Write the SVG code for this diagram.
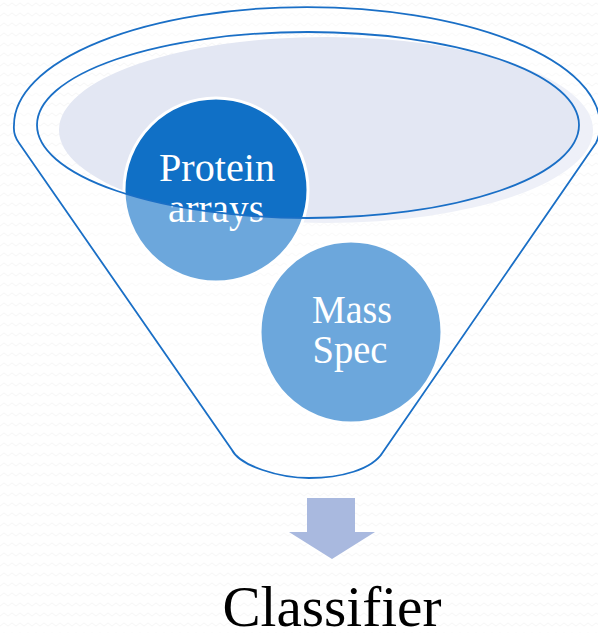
<svg xmlns="http://www.w3.org/2000/svg" width="598" height="633" viewBox="0 0 598 633">
  <defs>
    <!-- faint zigzag paper texture -->
    <pattern id="zigzag" width="8" height="10" patternUnits="userSpaceOnUse">
      <rect width="8" height="10" fill="#ffffff"/>
      <path d="M0,6 L4,3 L8,6" fill="none" stroke="#f6f6f6" stroke-width="1"/>
    </pattern>
    <style>
      .label { font-family: "Liberation Serif", "DejaVu Serif", serif; fill: #ffffff; text-anchor: middle; font-size: 39px; }
      .ball { fill: #1070c6; stroke: #ffffff; stroke-width: 3; }
      .rim { fill: none; stroke: #1a6fc6; stroke-width: 1.8; }
    </style>
  </defs>

  <rect width="598" height="633" fill="url(#zigzag)"/>

  <!-- contents of the funnel mouth -->
  <ellipse id="mouth-fill" cx="326" cy="130" rx="267" ry="93" fill="#e3e7f3"/>

  <g id="node-protein-arrays">
    <circle class="ball" cx="216" cy="190" r="92"/>
    <text class="label" x="217" y="181" textLength="116" lengthAdjust="spacingAndGlyphs">Protein</text>
    <text class="label" x="216" y="222" textLength="96" lengthAdjust="spacingAndGlyphs">arrays</text>
  </g>

  <g id="node-mass-spec">
    <circle class="ball" cx="351" cy="332" r="91"/>
    <text class="label" x="352" y="323" textLength="80" lengthAdjust="spacingAndGlyphs">Mass</text>
    <text class="label" x="350" y="363" textLength="75" lengthAdjust="spacingAndGlyphs">Spec</text>
  </g>

  <!-- funnel body: translucent white over everything below the rim -->
  <g id="funnel">
    <path fill="#ffffff" fill-opacity="0.39" fill-rule="evenodd"
          d="M19,143 Q13,135 14,125 A293 118 0 0 1 600 125 Q600,135 596,143 L383,452 C372,470 340,478 309,478 C280,478 240,466 232,450 Z
             M37,125 A271 93 0 1 0 579 125 A271 93 0 1 0 37 125 Z"/>
    <path class="rim" d="M19,143 Q13,135 14,125 A293 118 0 0 1 600 125 Q600,135 596,143 L383,452 C372,470 340,478 309,478 C280,478 240,466 232,450 Z"/>
    <ellipse class="rim" cx="308" cy="125" rx="271" ry="93"/>
  </g>

  <g id="connectors">
    <path id="arrow-down" d="M307,498 L355,498 L355,532 L375,532 L332,559 L289,532 L307,532 Z" fill="#a9b9df"/>
  </g>

  <g id="node-classifier">
    <text x="332" y="626" font-family="'Liberation Serif', 'DejaVu Serif', serif" font-size="56" fill="#000000" text-anchor="middle" textLength="219" lengthAdjust="spacingAndGlyphs">Classifier</text>
  </g>
</svg>
